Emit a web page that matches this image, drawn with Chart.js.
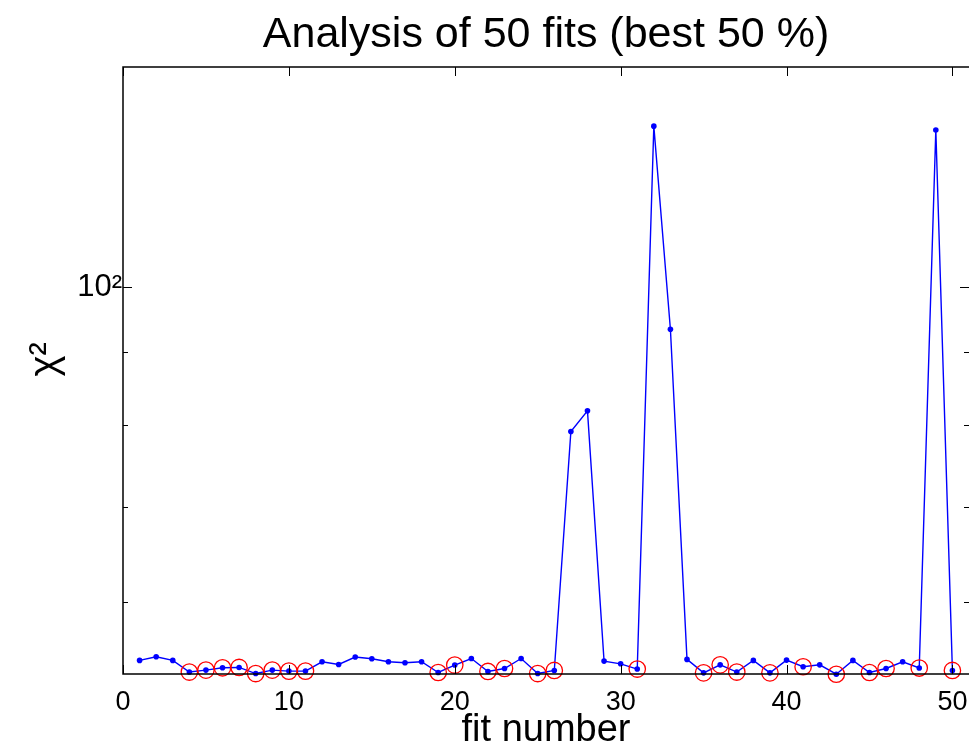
<!DOCTYPE html>
<html>
<head>
<meta charset="utf-8">
<script src="https://cdn.jsdelivr.net/npm/chart.js@4/dist/chart.umd.min.js"></script>
<style>
  body { margin: 0; background: #fff; }
  canvas { display: block; }
</style>
</head>
<body>
<canvas id="chart" width="969" height="751"></canvas>
<script>
// fit number on the x axis
const fitNumbers = [1, 2, 3, 4, 5, 6, 7, 8, 9, 10,
    11, 12, 13, 14, 15, 16, 17, 18, 19, 20,
    21, 22, 23, 24, 25, 26, 27, 28, 29, 30,
    31, 32, 33, 34, 35, 36, 37, 38, 39, 40,
    41, 42, 43, 44, 45, 46, 47, 48, 49, 50];

// chi^2 of every fit
const chi2 = [54.54, 54.87, 54.54, 53.52, 53.69, 53.89, 53.92, 53.39, 53.69, 53.60,
    53.60, 54.42, 54.18, 54.84, 54.69, 54.42, 54.33, 54.42, 53.48, 54.13,
    54.71, 53.57, 53.83, 54.71, 53.39, 53.66, 79.1, 81.8, 54.48, 54.24,
    53.78, 129.9, 93.4, 54.63, 53.45, 54.15, 53.52, 54.54, 53.45, 54.57,
    53.98, 54.15, 53.33, 54.54, 53.48, 53.83, 54.42, 53.87, 129.1, 53.66];

// the best 50 % (circled in red)
const bestFits = [4, 5, 6, 7, 8, 9, 10, 11, 19, 20, 22, 23, 25, 26, 31,
    35, 36, 37, 39, 41, 43, 45, 46, 48, 50];

const xTicks = [0, 10, 20, 30, 40, 50];
const yTicks = [60, 70, 80, 90, 100];

const FONT = "'Liberation Sans', Arial, Helvetica, sans-serif";

// MATLAB style box with inward ticks
const boxPlugin = {
    id: 'box',
    afterDraw(chart) {
        const { ctx, chartArea: a, scales: { x, y } } = chart;
        ctx.save();
        ctx.strokeStyle = '#000';
        ctx.lineWidth = 1.5;
        ctx.beginPath();
        ctx.moveTo(a.right, a.top);
        ctx.lineTo(a.left, a.top);
        ctx.lineTo(a.left, a.bottom);
        ctx.lineTo(a.right, a.bottom);
        ctx.stroke();

        ctx.lineWidth = 1;
        ctx.beginPath();
        xTicks.forEach(t => {
            const px = Math.round(x.getPixelForValue(t)) + 0.5;
            ctx.moveTo(px, a.bottom); ctx.lineTo(px, a.bottom - 9);
            ctx.moveTo(px, a.top); ctx.lineTo(px, a.top + 9);
        });
        yTicks.forEach(t => {
            const py = Math.round(y.getPixelForValue(t)) + 0.5;
            const len = t === 100 ? 9 : 5;
            ctx.moveTo(a.left, py); ctx.lineTo(a.left + len, py);
            ctx.moveTo(a.right, py); ctx.lineTo(a.right - len, py);
        });
        ctx.stroke();
        ctx.restore();
    }
};

new Chart(document.getElementById('chart'), {
    type: 'line',
    data: {
        datasets: [{
            label: 'best',
            data: bestFits.map(n => ({ x: n, y: chi2[n - 1] })),
            showLine: false,
            pointRadius: 8.2,
            pointHoverRadius: 8.2,
            pointBorderWidth: 1.3,
            pointBorderColor: '#ff0000',
            pointBackgroundColor: 'rgba(0,0,0,0)',
            clip: false
        }, {
            label: 'chi2',
            data: fitNumbers.map((n, i) => ({ x: n, y: chi2[i] })),
            borderColor: '#0000ff',
            borderWidth: 1.4,
            pointRadius: 2.8,
            pointBorderWidth: 0,
            pointBackgroundColor: '#0000ff',
            tension: 0,
            clip: false
        }]
    },
    options: {
        responsive: false,
        animation: false,
        devicePixelRatio: 1,
        layout: { padding: 0, autoPadding: false },
        plugins: {
            legend: { display: false },
            tooltip: { enabled: false },
            title: {
                display: true,
                fullSize: false,
                text: 'Analysis of 50 fits (best 50 %)',
                color: '#000',
                font: { family: FONT, size: 43, weight: 'normal', lineHeight: 1.2 },
                padding: { top: 9.2, bottom: 6.2 }
            }
        },
        scales: {
            x: {
                type: 'linear',
                min: 0,
                max: 51,
                afterBuildTicks: scale => { scale.ticks = xTicks.map(v => ({ value: v })); },
                afterFit: scale => {
                    scale.height = 77;
                    scale.paddingLeft = 0;
                    scale.paddingRight = 0;
                },
                grid: { display: false, drawTicks: false },
                border: { display: false },
                ticks: {
                    color: '#000',
                    font: { family: FONT, size: 27 },
                    padding: 12,
                    maxRotation: 0,
                    autoSkip: false
                },
                title: {
                    display: true,
                    text: 'fit number',
                    color: '#000',
                    font: { family: FONT, size: 38, lineHeight: 1 },
                    padding: { top: 0, bottom: 1 }
                }
            },
            y: {
                type: 'logarithmic',
                min: 53.35,
                max: 143,
                afterBuildTicks: scale => { scale.ticks = yTicks.map(v => ({ value: v })); },
                afterFit: scale => {
                    scale.width = 123;
                    scale.paddingTop = 0;
                    scale.paddingBottom = 0;
                },
                grid: { display: false, drawTicks: false },
                border: { display: false },
                ticks: {
                    color: '#000',
                    font: { family: FONT, size: 31 },
                    padding: 1,
                    autoSkip: false,
                    callback: v => (v === 100 ? '10²' : '')
                },
                title: {
                    display: true,
                    text: '  χ²',
                    color: '#000',
                    font: { family: FONT, size: 40, lineHeight: 1.2 },
                    padding: { top: 22, bottom: 0 }
                }
            }
        }
    },
    plugins: [boxPlugin]
});
</script>
</body>
</html>
